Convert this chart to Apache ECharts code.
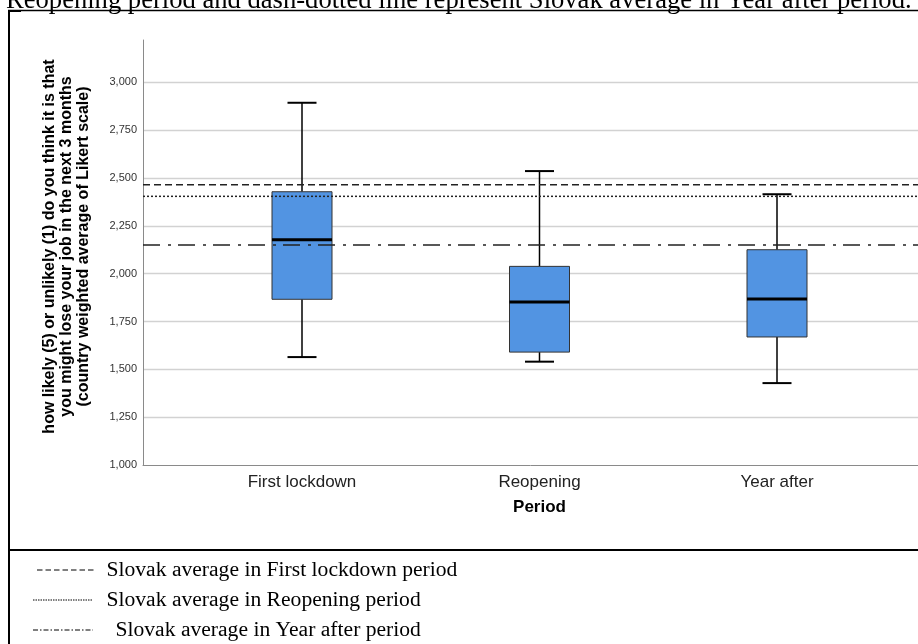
<!DOCTYPE html>
<html>
<head>
<meta charset="utf-8">
<script src="https://cdn.jsdelivr.net/npm/echarts@6/dist/echarts.min.js"></script>
<style>
  html, body { margin: 0; padding: 0; background: #ffffff; }
  #chart { width: 918px; height: 644px; }
</style>
</head>
<body>
<div id="chart"></div>
<script>
// ---- data ----
const categories = ['First lockdown', 'Reopening', 'Year after'];
const whiskerLow  = [1.564, 1.540, 1.428];
const quartile1   = [1.866, 1.590, 1.669];
const medianVals  = [2.177, 1.852, 1.867];
const quartile3   = [2.428, 2.038, 2.125];
const whiskerHigh = [2.893, 2.536, 2.415];
const slovakAvgNames = ['Slovak average in First lockdown period', 'Slovak average in Reopening period', 'Slovak average in Year after period'];
const slovakAvgVals  = [2.465, 2.404, 2.150];
const yTitle = 'how likely (5) or unlikely (1) do you think it is that\nyou might lose your job in the next 3 months\n(country weighted average of Likert scale)';
const xTitle = 'Period';
const caption = 'Reopening period and dash-dotted line represent Slovak average in Year after period.';

// ---- chart ----
const chart = echarts.init(document.getElementById('chart'), null, { renderer: 'canvas' });

const Y_MIN = 1, Y_MAX = 3.221;
const boxData = categories.map((c, i) => [i, whiskerLow[i], quartile1[i], medianVals[i], quartile3[i], whiskerHigh[i]]);
const refDashes = [[7, 4], [2, 2], [17, 8, 3, 7]];
const legendDashes = [[5.5, 3], [1.5, 1], [5, 2, 1.5, 2]];

const refSeries = slovakAvgVals.map((v, i) => ({
  type: 'line',
  name: slovakAvgNames[i],
  xAxisIndex: 0, yAxisIndex: 0,
  data: [[0, v], [1, v]],
  symbol: 'none',
  silent: true,
  z: 5,
  lineStyle: { color: '#222', width: 1.5, type: refDashes[i] }
}));

const legendGraphics = [];
const legendY = [570, 600, 630];
const legendLineX = [[37, 95], [33, 93], [33, 93]];
const legendTextX = [106.5, 106.5, 115.5];
slovakAvgNames.forEach((n, i) => {
  legendGraphics.push({
    type: 'line',
    shape: { x1: legendLineX[i][0], y1: legendY[i], x2: legendLineX[i][1], y2: legendY[i] },
    style: { stroke: '#000', lineWidth: 1, lineDash: legendDashes[i] }
  });
  legendGraphics.push({
    type: 'text',
    x: legendTextX[i], y: legendY[i] + 0.3,
    style: { text: n, font: '21.6px "Liberation Serif", "Times New Roman", serif', fill: '#000', verticalAlign: 'middle', align: 'left' }
  });
});

const option = {
  animation: false,
  backgroundColor: '#ffffff',
  grid: [
    { left: 143, right: 0, top: 40, bottom: 179, containLabel: false },
    { left: 183.25, right: 22.25, top: 40, bottom: 179, containLabel: false }
  ],
  xAxis: [
    {
      type: 'value', gridIndex: 0, min: 0, max: 1,
      axisLine: { show: true, onZero: false, lineStyle: { color: '#8a8a8a', width: 1 } },
      axisTick: { show: false }, axisLabel: { show: false }, splitLine: { show: false }
    },
    {
      type: 'category', gridIndex: 1, data: categories, boundaryGap: true,
      axisLine: { show: false }, axisTick: { show: false },
      axisLabel: { margin: 9, fontFamily: '"Liberation Sans", Arial, sans-serif', fontSize: 17, color: '#222' },
      name: xTitle, nameLocation: 'middle', nameGap: 34,
      nameTextStyle: { fontFamily: '"Liberation Sans", Arial, sans-serif', fontSize: 17, fontWeight: 'bold', color: '#000' }
    }
  ],
  yAxis: [
    {
      type: 'value', gridIndex: 0, min: Y_MIN, max: Y_MAX, interval: 0.25,
      axisLine: { show: true, lineStyle: { color: '#8a8a8a', width: 1 } },
      axisTick: { show: false },
      axisLabel: {
        margin: 6, fontFamily: '"Liberation Sans", Arial, sans-serif', fontSize: 11, color: '#333',
        showMaxLabel: false,
        formatter: v => v.toFixed(3).replace('.', ',')
      },
      splitLine: { show: true, showMaxLine: false, showMinLine: false, lineStyle: { color: '#d2d2d2', width: 1.3 } },
      name: yTitle, nameLocation: 'middle', nameRotate: 90, nameGap: 51,
      nameTextStyle: {
        fontFamily: '"Liberation Sans", Arial, sans-serif', fontSize: 16, fontWeight: 'bold',
        color: '#000', lineHeight: 17, align: 'center', padding: [0, 0, 0, 12]
      }
    },
    {
      type: 'value', gridIndex: 1, min: Y_MIN, max: Y_MAX, show: false,
      splitLine: { show: false }
    }
  ],
  series: [
    ...refSeries,
    {
      type: 'custom',
      name: 'boxes',
      xAxisIndex: 1, yAxisIndex: 1,
      data: boxData,
      encode: { x: 0, y: [1, 2, 3, 4, 5] },
      z: 3,
      renderItem: function (params, api) {
        const idx = api.value(0);
        const lo = api.coord([idx, api.value(1)]);
        const q1 = api.coord([idx, api.value(2)]);
        const md = api.coord([idx, api.value(3)]);
        const q3 = api.coord([idx, api.value(4)]);
        const hi = api.coord([idx, api.value(5)]);
        const x = lo[0];
        const bw = 60, cw = 29;
        const wStyle = { stroke: '#000', lineWidth: 1.5 };
        return {
          type: 'group',
          children: [
            { type: 'line', shape: { x1: x, y1: hi[1], x2: x, y2: q3[1] }, style: wStyle },
            { type: 'line', shape: { x1: x, y1: q1[1], x2: x, y2: lo[1] }, style: wStyle },
            { type: 'line', shape: { x1: x - cw / 2, y1: hi[1], x2: x + cw / 2, y2: hi[1] }, style: { stroke: '#000', lineWidth: 2 } },
            { type: 'line', shape: { x1: x - cw / 2, y1: lo[1], x2: x + cw / 2, y2: lo[1] }, style: { stroke: '#000', lineWidth: 2 } },
            { type: 'rect', shape: { x: x - bw / 2, y: q3[1], width: bw, height: q1[1] - q3[1] }, style: { fill: '#5294e2', stroke: '#333', lineWidth: 1 } },
            { type: 'line', shape: { x1: x - bw / 2, y1: md[1], x2: x + bw / 2, y2: md[1] }, style: { stroke: '#000', lineWidth: 3 } }
          ]
        };
      }
    }
  ],
  graphic: [
    {
      type: 'text', x: 6, y: 1.1,
      style: { text: caption, font: '26.6px "Liberation Serif", "Times New Roman", serif', fill: '#000', verticalAlign: 'middle', align: 'left' }
    },
    { type: 'line', shape: { x1: 8, y1: 10.5, x2: 918, y2: 10.5 }, style: { stroke: '#000', lineWidth: 1.3 } },
    { type: 'rect', shape: { x: 8, y: 10, width: 13, height: 2 }, style: { fill: '#000' } },
    { type: 'line', shape: { x1: 9, y1: 10, x2: 9, y2: 644 }, style: { stroke: '#000', lineWidth: 2 } },
    { type: 'line', shape: { x1: 8, y1: 550, x2: 918, y2: 550 }, style: { stroke: '#000', lineWidth: 2 } },
    ...legendGraphics
  ]
};

chart.setOption(option);
</script>
</body>
</html>
